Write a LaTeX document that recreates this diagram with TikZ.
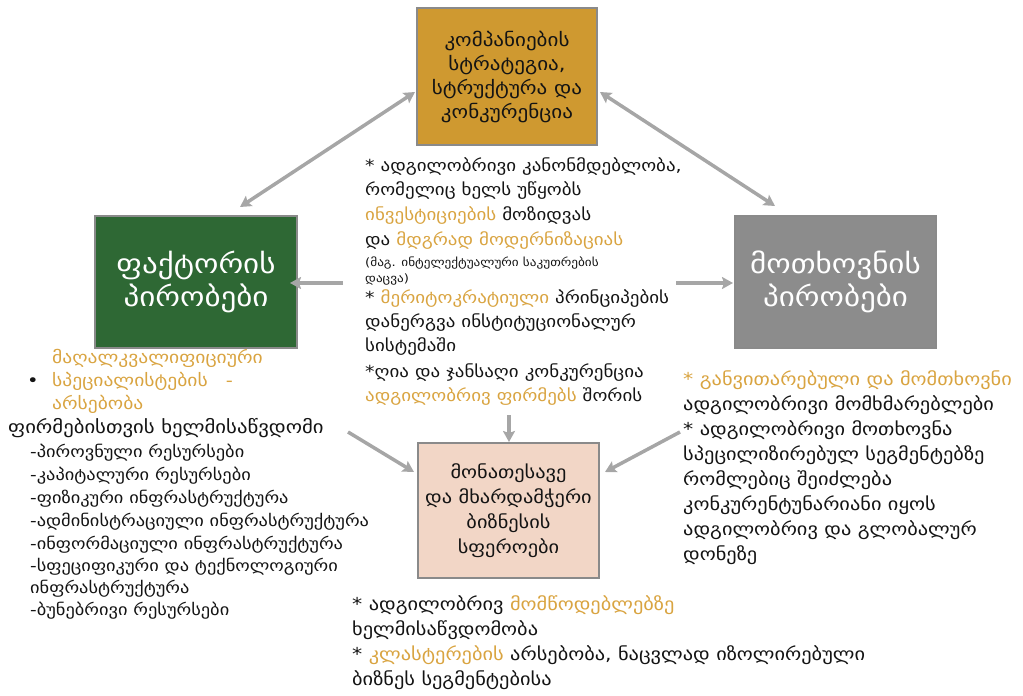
\documentclass[tikz,border=0pt]{standalone}
\usepackage{fontspec}
\setmainfont[FakeStretch=1.15]{DejaVu Sans}
\usetikzlibrary{arrows.meta}
\definecolor{gold}{HTML}{D9A441}
\definecolor{topfill}{HTML}{CF9930}
\definecolor{greenfill}{HTML}{2E6834}
\definecolor{grayfill}{HTML}{8C8C8C}
\definecolor{pinkfill}{HTML}{F2D6C6}
\definecolor{boxborder}{HTML}{8A8A8A}
\definecolor{arrowgray}{HTML}{A6A6A6}
\definecolor{ink}{HTML}{141414}
\newcommand\gold[1]{\textcolor{gold}{#1}}
\newcommand\TL[5][txt]{\node[#1] (#2) at (#3,#4) {#5};}
\tikzset{
  box/.style={draw=boxborder, line width=2.5pt, inner sep=0pt, align=center},
  txt/.style={anchor=base west, inner sep=0pt, text=ink, font=\fontsize{16.5}{18}\selectfont},
  txtsmall/.style={txt, font=\fontsize{11.5}{12}\selectfont},
  txtlist/.style={txt, font=\fontsize{16}{18}\selectfont},
  txtbig/.style={txt, font=\fontsize{17}{18}\selectfont},
  txtwide/.style={txt, font=\fontsize{18}{18}\selectfont},
  txtside/.style={txt, font=\fontsize{17.7}{18}\selectfont},
  arr/.style={draw=arrowgray, line width=3.5pt, -{Stealth[length=11pt,width=12pt,inset=2pt]}},
  dblarr/.style={draw=arrowgray, line width=3.5pt, {Stealth[length=11pt,width=12pt,inset=2pt]}-{Stealth[length=11pt,width=12pt,inset=2pt]}}
}
\begin{document}
\begin{tikzpicture}[x=1pt,y=-1pt]
\useasboundingbox (0,0) rectangle (1023,696);
% boxes
\node[box, fill=topfill, minimum width=180pt, minimum height=137pt, text=ink,
  font=\fontsize{18.3}{24}\selectfont] (T) at (507,76.5)
  {კომპანიების\\სტრატეგია,\\სტრუქტურა და\\კონკურენცია};
\node[box, fill=greenfill, minimum width=202pt, minimum height=132pt, text=white,
  font=\fontsize{27}{33}\selectfont] (L) at (196,282)
  {ფაქტორის\\პირობები};
\node[box, fill=grayfill, minimum width=201pt, minimum height=132pt, text=white,
  font=\fontsize{27}{33}\selectfont] (R) at (835.5,282)
  {მოთხოვნის\\პირობები};
\node[box, fill=pinkfill, minimum width=181pt, minimum height=135pt, text=ink,
  font=\fontsize{17.7}{25}\selectfont] (B) at (508.5,510.5)
  {მონათესავე\\და მხარდამჭერი\\ბიზნესის\\სფეროები};
% center text
\TL{c1}{365}{171}{* ადგილობრივი კანონმდებლობა,}
\TL{c2}{365}{195}{რომელიც ხელს უწყობს}
\TL{c3}{365}{220}{\gold{ინვესტიციების} მოზიდვას}
\TL{c4}{365}{245}{და \gold{მდგრად მოდერნიზაციას}}
\TL[txtsmall]{c5}{365}{266}{(მაგ. ინტელექტუალური საკუთრების}
\TL[txtsmall]{c6}{365}{282}{დაცვა)}
\TL{c7}{365}{303}{* \gold{მერიტოკრატიული} პრინციპების}
\TL{c8}{365}{327}{დანერგვა ინსტიტუციონალურ}
\TL{c9}{365}{351}{სისტემაში}
\TL{c10}{365}{377}{*ღია და ჯანსაღი კონკურენცია}
\TL{c11}{365}{401}{\gold{ადგილობრივ ფირმებს} შორის}
% left text
\TL[txtbig]{bul}{27}{386}{•}
\TL[txtbig]{l1}{52}{363}{\gold{მაღალკვალიფიციური}}
\TL[txtbig]{l2}{52}{386}{\gold{სპეციალისტების}\hspace{18pt}\gold{-}}
\TL[txtbig]{l3}{52}{409}{\gold{არსებობა}}
\TL[txtwide]{l4}{8}{433}{ფირმებისთვის ხელმისაწვდომი}
\TL[txtlist]{l5}{30}{457}{-პიროვნული რესურსები}
\TL[txtlist]{l6}{30}{480}{-კაპიტალური რესურსები}
\TL[txtlist]{l7}{30}{503}{-ფიზიკური ინფრასტრუქტურა}
\TL[txtlist]{l8}{30}{526}{-ადმინისტრაციული ინფრასტრუქტურა}
\TL[txtlist]{l9}{30}{549}{-ინფორმაციული ინფრასტრუქტურა}
\TL[txtlist]{l10}{30}{571}{-სფეციფიკური და ტექნოლოგიური}
\TL[txtlist]{l11}{30}{593}{ინფრასტრუქტურა}
\TL[txtlist]{l12}{30}{615}{-ბუნებრივი რესურსები}
% right text
\TL[txtside]{r1}{683}{385}{\gold{* განვითარებული და მომთხოვნი}}
\TL[txtside]{r2}{683}{410}{ადგილობრივი მომხმარებლები}
\TL[txtside]{r3}{683}{435}{* ადგილობრივი მოთხოვნა}
\TL[txtside]{r4}{683}{460}{სპეცილიზირებულ სეგმენტებზე}
\TL[txtside]{r5}{683}{485}{რომლებიც შეიძლება}
\TL[txtside]{r6}{683}{510}{კონკურენტუნარიანი იყოს}
\TL[txtside]{r7}{683}{535}{ადგილობრივ და გლობალურ}
\TL[txtside]{r8}{683}{560}{დონეზე}
% bottom text
\TL[txtside]{b1}{352}{610}{* ადგილობრივ \gold{მომწოდებლებზე}}
\TL[txtside]{b2}{352}{635}{ხელმისაწვდომობა}
\TL[txtside]{b3}{352}{660}{* \gold{კლასტერების} არსებობა, ნაცვლად იზოლირებული}
\TL[txtside]{b4}{352}{685}{ბიზნეს სეგმენტებისა}
% arrow end points
\coordinate (a1s) at (240,207); \coordinate (a1e) at (415,92);
\coordinate (a2s) at (600,92);  \coordinate (a2e) at (775,206);
\coordinate (a3s) at (343,283); \coordinate (a3e) at (290,283);
\coordinate (a4s) at (676,283); \coordinate (a4e) at (733,283);
\coordinate (a5s) at (348,432); \coordinate (a5e) at (414,472);
\coordinate (a6s) at (680,432); \coordinate (a6e) at (605,472);
\coordinate (a7s) at (509,415); \coordinate (a7e) at (509,442);
\draw[dblarr] (a1s) -- (a1e);
\draw[dblarr] (a2s) -- (a2e);
\draw[arr] (a3s) -- (a3e);
\draw[arr] (a4s) -- (a4e);
\draw[arr] (a5s) -- (a5e);
\draw[arr] (a6s) -- (a6e);
\draw[arr] (a7s) -- (a7e);
\end{tikzpicture}
\end{document}
